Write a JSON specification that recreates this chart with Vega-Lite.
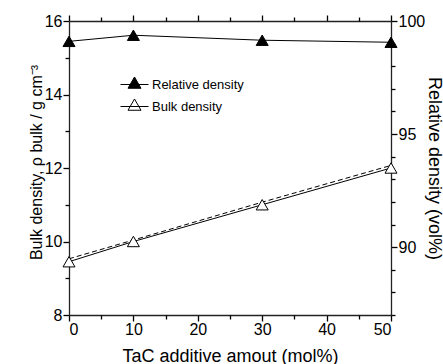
{
  "$schema": "https://vega.github.io/schema/vega-lite/v6.json",
  "width": 322,
  "height": 294,
  "autosize": "none",
  "padding": {"left": 69, "top": 21, "right": 52, "bottom": 49},
  "background": "white",
  "config": {
    "view": {"stroke": null},
    "font": "Liberation Sans",
    "axis": {
      "grid": false,
      "domainColor": "#222",
      "domainWidth": 1.3,
      "tickColor": "black",
      "tickWidth": 1.3,
      "labelFont": "Liberation Sans",
      "labelFontSize": 16,
      "labelColor": "black",
      "titleFont": "Liberation Sans",
      "titleFontSize": 18,
      "titleFontWeight": "normal",
      "titleColor": "black"
    }
  },
  "datasets": {
    "bulk": [
      {"tac": 0, "density": 9.45, "series": "Bulk density"},
      {"tac": 10, "density": 10.0, "series": "Bulk density"},
      {"tac": 30, "density": 11.0, "series": "Bulk density"},
      {"tac": 50, "density": 12.0, "series": "Bulk density"}
    ],
    "fit": [
      {"tac": 0, "density": 9.53},
      {"tac": 10, "density": 10.04},
      {"tac": 30, "density": 11.07},
      {"tac": 50, "density": 12.07}
    ],
    "rel": [
      {"tac": 0, "relative": 99.1, "series": "Relative density"},
      {"tac": 10, "relative": 99.37, "series": "Relative density"},
      {"tac": 30, "relative": 99.15, "series": "Relative density"},
      {"tac": 50, "relative": 99.06, "series": "Relative density"}
    ]
  },
  "layer": [
    {
      "data": {"name": "bulk"},
      "mark": {"type": "line", "color": "black", "strokeWidth": 1},
      "encoding": {
        "x": {
          "field": "tac", "type": "quantitative",
          "scale": {"domain": [0, 50], "nice": false, "zero": false},
          "axis": {
            "orient": "bottom",
            "values": [0, 10, 20, 30, 40, 50],
            "tickSize": 6,
            "labelPadding": 0,
            "title": "TaC additive amout (mol%)",
            "titleX": 161,
            "titleY": 46,
            "titleAnchor": "middle",
            "titleAlign": "center",
            "titleBaseline": "alphabetic"
          }
        },
        "y": {
          "field": "density", "type": "quantitative",
          "scale": {"domain": [8, 16], "nice": false, "zero": false},
          "axis": {
            "orient": "left",
            "values": [8, 10, 12, 14, 16],
            "tickSize": 6,
            "labelPadding": 1,
            "title": "Bulk density, ρ bulk / g cm⁻³",
            "titleFontSize": 16,
            "titleAngle": -90,
            "titleX": -28,
            "titleY": 141,
            "titleAlign": "center",
            "titleBaseline": "alphabetic"
          }
        }
      }
    },
    {
      "data": {"name": "fit"},
      "mark": {"type": "line", "color": "black", "strokeWidth": 1, "strokeDash": [5, 3]},
      "encoding": {
        "x": {
          "field": "tac", "type": "quantitative",
          "scale": {"domain": [0, 50], "nice": false, "zero": false},
          "axis": {"orient": "bottom", "values": [5, 15, 25, 35, 45], "tickSize": 4, "labels": false, "domain": false, "title": null}
        },
        "y": {
          "field": "density", "type": "quantitative",
          "scale": {"domain": [8, 16], "nice": false, "zero": false},
          "axis": {"orient": "left", "values": [9, 11, 13, 15], "tickSize": 4, "labels": false, "domain": false, "title": null}
        }
      }
    },
    {
      "data": {"name": "bulk"},
      "mark": {"type": "point", "shape": "triangle-up", "size": 144, "filled": true, "stroke": "black", "strokeWidth": 1, "opacity": 1},
      "encoding": {
        "x": {"field": "tac", "type": "quantitative", "scale": {"domain": [0, 50], "nice": false, "zero": false}, "axis": null},
        "y": {"field": "density", "type": "quantitative", "scale": {"domain": [8, 16], "nice": false, "zero": false}, "axis": null},
        "fill": {
          "field": "series", "type": "nominal",
          "scale": {"domain": ["Relative density", "Bulk density"], "range": ["black", "white"]},
          "legend": {
            "orient": "none",
            "legendX": 51,
            "legendY": 49,
            "title": null,
            "padding": 0,
            "labelFont": "Liberation Sans",
            "labelFontSize": 13,
            "labelColor": "black",
            "labelOffset": 3,
            "symbolType": "M-1,0H1M0,-0.536L0.464,0.268L-0.464,0.268Z",
            "symbolSize": 784,
            "symbolStrokeColor": "black",
            "symbolStrokeWidth": 1,
            "rowPadding": -14
          }
        }
      }
    },
    {
      "data": {"name": "rel"},
      "mark": {"type": "line", "color": "black", "strokeWidth": 1},
      "encoding": {
        "x": {
          "field": "tac", "type": "quantitative",
          "scale": {"domain": [0, 50], "nice": false, "zero": false},
          "axis": {
            "orient": "top",
            "values": [0, 10, 20, 30, 40, 50],
            "labels": false,
            "tickSize": 6,
            "title": null
          }
        },
        "y": {
          "field": "relative", "type": "quantitative",
          "scale": {"domain": [87, 100], "nice": false, "zero": false},
          "axis": {
            "orient": "right",
            "values": [90, 95, 100],
            "tickSize": 6,
            "labelPadding": 1,
            "title": "Relative density (vol%)",
            "titleAngle": 90,
            "titleX": 37,
            "titleY": 147,
            "titleAlign": "center",
            "titleBaseline": "alphabetic"
          }
        }
      }
    },
    {
      "data": {"name": "rel"},
      "mark": {"type": "point", "shape": "triangle-up", "size": 144, "filled": true, "stroke": "black", "strokeWidth": 1, "opacity": 1},
      "encoding": {
        "x": {
          "field": "tac", "type": "quantitative",
          "scale": {"domain": [0, 50], "nice": false, "zero": false},
          "axis": {"orient": "top", "values": [5, 15, 25, 35, 45], "tickSize": 4, "labels": false, "domain": false, "title": null}
        },
        "y": {
          "field": "relative", "type": "quantitative",
          "scale": {"domain": [87, 100], "nice": false, "zero": false},
          "axis": {"orient": "right", "values": [87, 88, 89, 91, 92, 93, 94, 96, 97, 98, 99], "tickSize": 4, "labels": false, "domain": false, "title": null}
        },
        "fill": {"field": "series", "type": "nominal"}
      }
    }
  ],
  "resolve": {
    "scale": {"x": "independent", "y": "independent"},
    "axis": {"x": "independent", "y": "independent"}
  }
}
